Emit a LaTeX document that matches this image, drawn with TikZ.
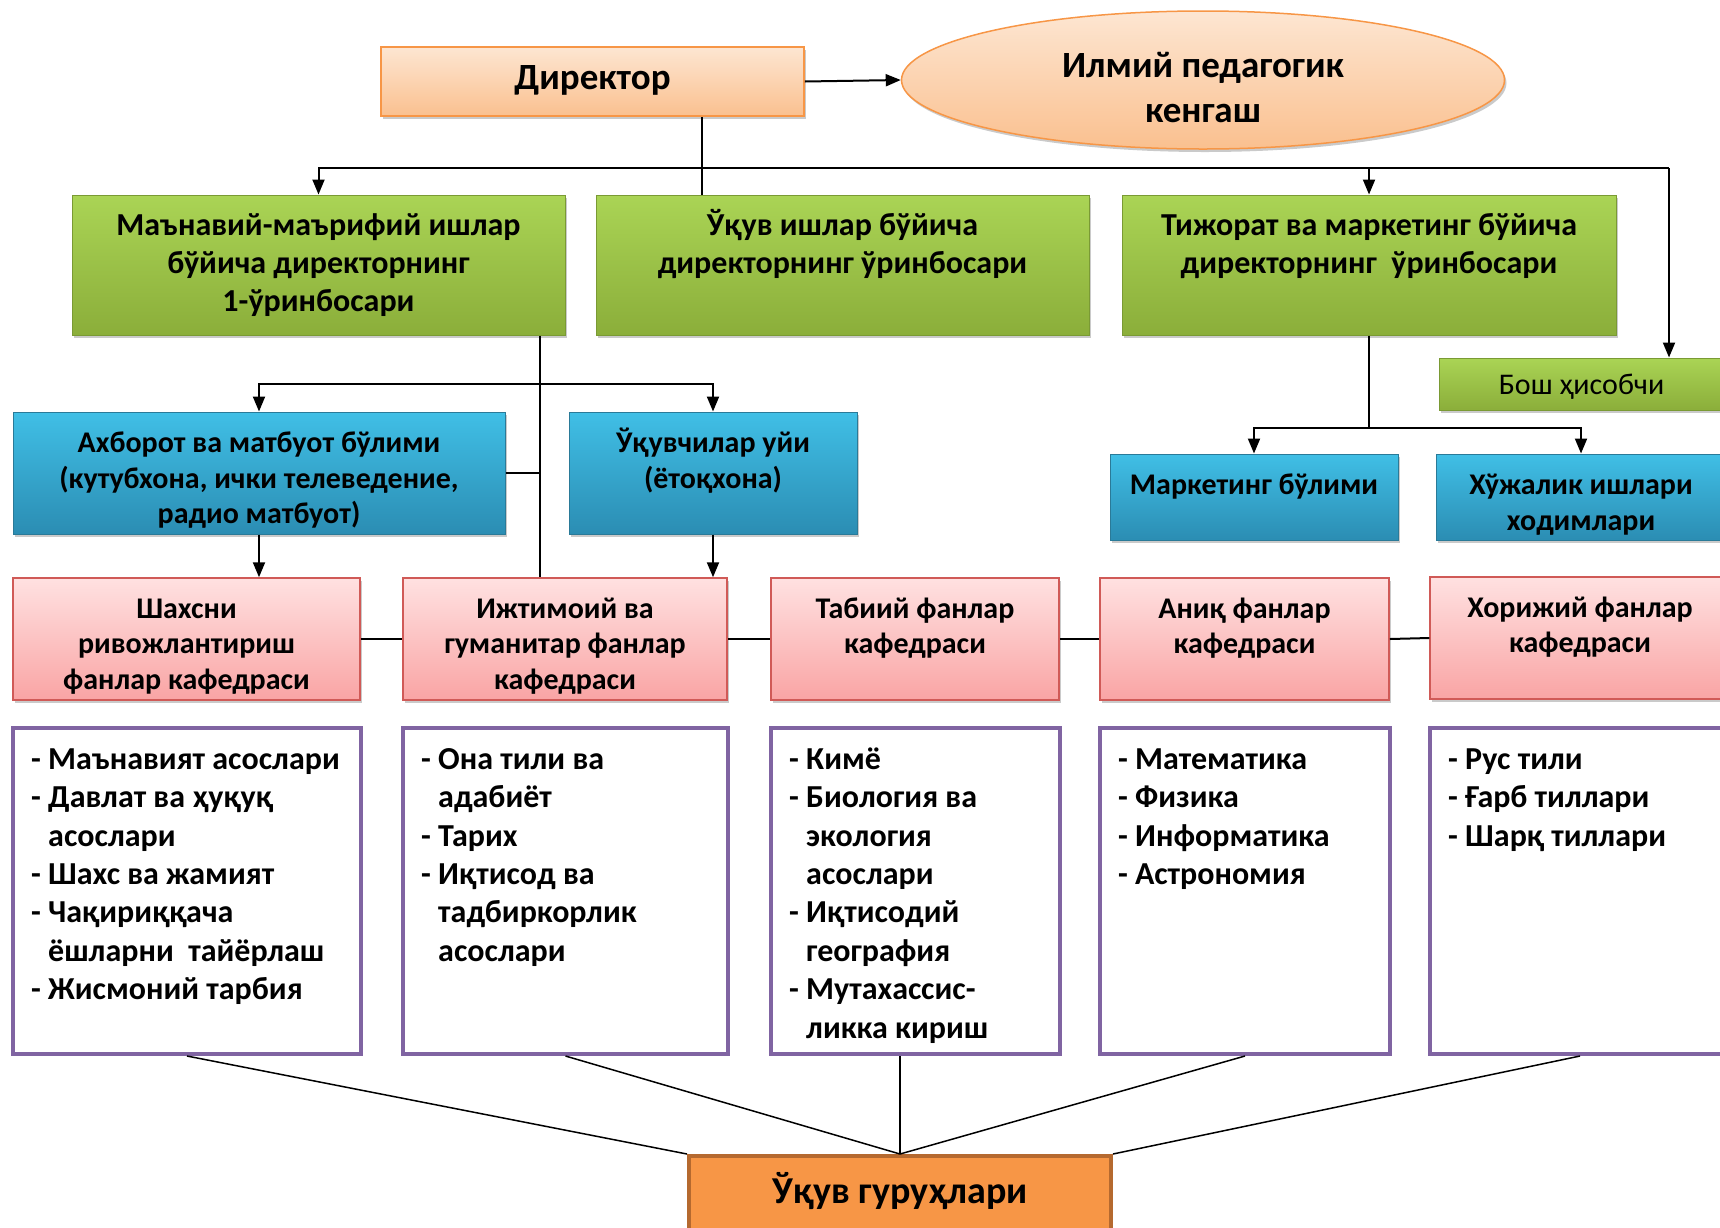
\documentclass[tikz,border=0pt]{standalone}
\usepackage{fontspec}
\setmainfont{Carlito}
\usetikzlibrary{arrows.meta,shapes.geometric,shadows}
\definecolor{orTop}{HTML}{FDE6D2}
\definecolor{orBot}{HTML}{FAC08F}
\definecolor{orBorder}{HTML}{F79646}
\definecolor{grTop}{HTML}{AAD455}
\definecolor{grBot}{HTML}{8BAE3A}
\definecolor{grBorder}{HTML}{7A9A34}
\definecolor{blTop}{HTML}{40BFE6}
\definecolor{blBot}{HTML}{2B8DB3}
\definecolor{blBorder}{HTML}{2A7A98}
\definecolor{pkTop}{HTML}{FFE1E1}
\definecolor{pkBot}{HTML}{F9A4A4}
\definecolor{pkBorder}{HTML}{D05A57}
\definecolor{puBorder}{HTML}{8064A2}
\definecolor{grpFill}{HTML}{F79646}
\definecolor{grpBorder}{HTML}{B5692F}
\newcommand\firstln{\rule{0pt}{26pt}}
\tikzset{
  conn/.style={line width=2pt, black},
  arr/.style={conn, -{Triangle[length=15pt,width=12pt]}},
  boxbase/.style={rectangle, inner sep=0pt,
    drop shadow={shadow xshift=2pt, shadow yshift=-3pt, opacity=0.35, fill=black!60}},
  orangebox/.style={boxbase, top color=orTop, bottom color=orBot, draw=orBorder, line width=1.5pt},
  greenbox/.style={boxbase, top color=grTop, bottom color=grBot, draw=grBorder, line width=1pt},
  bluebox/.style={boxbase, top color=blTop, bottom color=blBot, draw=blBorder, line width=1pt},
  pinkbox/.style={boxbase, top color=pkTop, bottom color=pkBot, draw=pkBorder, line width=1.5pt},
  listbox/.style={rectangle, inner sep=0pt, fill=white, draw=puBorder, line width=4pt},
  groupbox/.style={rectangle, inner sep=0pt, fill=grpFill, draw=grpBorder, line width=4pt},
  txt/.style={inner sep=0pt, align=center, anchor=north, yshift=-15pt,
    font=\bfseries\fontsize{30}{35.5}\selectfont},
  gtxt/.style={txt, font=\bfseries\fontsize{32}{38}\selectfont},
  listtxt/.style={inner sep=0pt, align=left, anchor=north west,
    font=\bfseries\fontsize{32}{38.4}\selectfont},
}
\begin{document}
\begin{tikzpicture}[x=1pt,y=-1pt]
\useasboundingbox (0,0) rectangle (1720,1227);

% top level
\node[orangebox, minimum width=423, minimum height=69] (dir) at (592.5,81.5) {};
\node[inner sep=0pt, font=\bfseries\fontsize{37}{44}\selectfont] (dirtxt) at (592.5,80) {Директор};
\node[ellipse, inner sep=0pt, top color=orTop, bottom color=orBot, draw=orBorder, line width=1.5pt,
      drop shadow={shadow xshift=2pt, shadow yshift=-3pt, opacity=0.35, fill=black!60},
      minimum width=603, minimum height=138] (council) at (1203,80) {};
\node[inner sep=0pt, align=center, font=\bfseries\fontsize{37}{45}\selectfont] (counciltxt) at (1203,88) {Илмий педагогик\\кенгаш};

% deputies
\node[greenbox, minimum width=493, minimum height=140] (g1) at (318.5,265) {};
\node[greenbox, minimum width=493, minimum height=140] (g2) at (842.5,265) {};
\node[greenbox, minimum width=494, minimum height=140] (g3) at (1369,265) {};
\node[gtxt] (g1t) at (g1.north) {\firstln Маънавий-маърифий ишлар\\бўйича директорнинг\\1-ўринбосари};
\node[gtxt] (g2t) at (g2.north) {\firstln Ўқув ишлар бўйича\\директорнинг ўринбосари};
\node[gtxt] (g3t) at (g3.north) {\firstln Тижорат ва маркетинг бўйича\\директорнинг\ \ ўринбосари};
\node[greenbox, minimum width=285, minimum height=52] (bosh) at (1581.5,384) {};
\node[inner sep=0pt, font=\fontsize{30}{36}\selectfont] (bosht) at (1581.5,387) {Бош ҳисобчи};

% departments
\node[bluebox, minimum width=492, minimum height=122] (b1) at (259,473) {};
\node[bluebox, minimum width=288, minimum height=122] (b2) at (713,473) {};
\node[bluebox, minimum width=288, minimum height=86] (b3) at (1254,497) {};
\node[bluebox, minimum width=290, minimum height=86] (b4) at (1581,497) {};
\node[txt] (b1t) at (b1.north) {\firstln Ахборот ва матбуот бўлими\\(кутубхона, ички телеведение,\\радио матбуот)};
\node[txt] (b2t) at (b2.north) {\firstln Ўқувчилар уйи\\(ётоқхона)};
\node[txt] (b3t) at (b3.north) {\firstln Маркетинг бўлими};
\node[txt] (b4t) at (b4.north) {\firstln Хўжалик ишлари\\ходимлари};

% chairs
\node[pinkbox, minimum width=347, minimum height=122] (p1) at (186.5,639) {};
\node[pinkbox, minimum width=324, minimum height=122] (p2) at (565,639) {};
\node[pinkbox, minimum width=288, minimum height=122] (p3) at (915,639) {};
\node[pinkbox, minimum width=289, minimum height=122] (p4) at (1244.5,639) {};
\node[pinkbox, minimum width=300, minimum height=122] (p5) at (1580,638) {};
\node[txt] (p1t) at (p1.north) {\firstln Шахсни\\ривожлантириш\\фанлар кафедраси};
\node[txt] (p2t) at (p2.north) {\firstln Ижтимоий ва\\гуманитар фанлар\\кафедраси};
\node[txt] (p3t) at (p3.north) {\firstln Табиий фанлар\\кафедраси};
\node[txt] (p4t) at (p4.north) {\firstln Аниқ фанлар\\кафедраси};
\node[txt] (p5t) at (p5.north) {\firstln Хорижий фанлар\\кафедраси};

% subject lists
\node[listbox, minimum width=348, minimum height=326] (u1) at (187,891) {};
\node[listbox, minimum width=325, minimum height=326] (u2) at (565.5,891) {};
\node[listbox, minimum width=289, minimum height=326] (u3) at (915.5,891) {};
\node[listbox, minimum width=290, minimum height=326] (u4) at (1245,891) {};
\node[listbox, minimum width=300, minimum height=326] (u5) at (1580,891) {};
\node[listtxt] (u1t) at ([shift={(20,17)}]u1.north west) {\firstln - Маънавият асослари\\- Давлат ва ҳуқуқ\\\phantom{- }асослари\\- Шахс ва жамият\\- Чақириққача\\\phantom{- }ёшларни\ \ тайёрлаш\\- Жисмоний тарбия};
\node[listtxt] (u2t) at ([shift={(20,17)}]u2.north west) {\firstln - Она тили ва\\\phantom{- }адабиёт\\- Тарих\\- Иқтисод ва\\\phantom{- }тадбиркорлик\\\phantom{- }асослари};
\node[listtxt] (u3t) at ([shift={(20,17)}]u3.north west) {\firstln - Кимё\\- Биология ва\\\phantom{- }экология\\\phantom{- }асослари\\- Иқтисодий\\\phantom{- }география\\- Мутахассис-\\\phantom{- }ликка кириш};
\node[listtxt] (u4t) at ([shift={(20,17)}]u4.north west) {\firstln - Математика\\- Физика\\- Информатика\\- Астрономия};
\node[listtxt] (u5t) at ([shift={(20,17)}]u5.north west) {\firstln - Рус тили\\- Ғарб тиллари\\- Шарқ тиллари};

% study groups
\node[groupbox, minimum width=422, minimum height=74] (groups) at (900,1193) {};
\node[inner sep=0pt, font=\bfseries\fontsize{38}{44}\selectfont] (groupst) at (900,1191) {Ўқув гуруҳлари};

% connectors
\coordinate (jtop) at (702,168);
\coordinate (bk) at (1669,168);
\coordinate (v1) at (540,384);
\coordinate (v3) at (1369,428);

\draw[arr] (dir.east) -- (council.west);
\draw[conn] (dir.south -| jtop) -- (jtop |- g2.north);
\draw[arr] (jtop) -| (g1.north);
\draw[arr] (jtop) -| (g3.north);
\draw[conn] (jtop) -- (bk);
\draw[arr] (bk) -- (bk |- bosh.north);

\draw[conn] (g1.south -| v1) -- (v1 |- p2.north);
\draw[arr] (v1) -| (b1.north);
\draw[arr] (v1) -| (b2.north);
\draw[conn] (b1.east) -- (b1.east -| v1);
\draw[arr] (b1.south) -- (b1.south |- p1.north);
\draw[arr] (b2.south) -- (b2.south |- p2.north);

\draw[conn] (g3.south) -- (v3);
\draw[arr] (v3) -| (b3.north);
\draw[arr] (v3) -| (b4.north);

\draw[conn] (p1.east) -- (p2.west);
\draw[conn] (p2.east) -- (p3.west);
\draw[conn] (p3.east) -- (p4.west);
\draw[conn] (p4.east) -- (p5.west);

\draw[line width=1.5pt] (u1.south) -- (groups.north west);
\draw[line width=1.5pt] (u2.south) -- (groups.north);
\draw[line width=1.5pt] (groups.north |- u3.south) -- (groups.north);
\draw[line width=1.5pt] (u4.south) -- (groups.north);
\draw[line width=1.5pt] (u5.south) -- (groups.north east);
\end{tikzpicture}
\end{document}
